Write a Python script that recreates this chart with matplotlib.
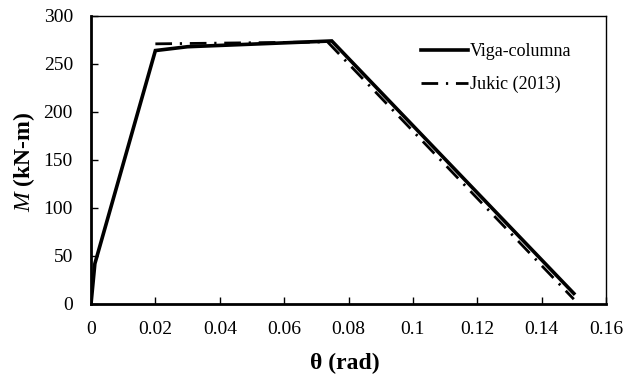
import matplotlib
matplotlib.use("Agg")
import matplotlib.pyplot as plt

# data
viga_theta = [0.0, 0.0012, 0.020, 0.030, 0.0748, 0.150]
viga_m = [0.0, 42.0, 264.0, 268.0, 274.0, 11.0]

jukic_theta = [0.020, 0.0735, 0.150]
jukic_m = [271.0, 273.0, 5.0]

x_ticks = [0, 0.02, 0.04, 0.06, 0.08, 0.1, 0.12, 0.14, 0.16]
x_labels = ["0", "0.02", "0.04", "0.06", "0.08", "0.1", "0.12", "0.14", "0.16"]
y_ticks = [0, 50, 100, 150, 200, 250, 300]

plt.rcParams['font.family'] = ['Liberation Serif', 'DejaVu Serif']
plt.rcParams['mathtext.fontset'] = 'custom'
plt.rcParams['mathtext.it'] = 'Liberation Serif:italic'
plt.rcParams['mathtext.rm'] = 'Liberation Serif'

fig = plt.figure(figsize=(6.26, 3.8), dpi=100)
ax = fig.add_axes([91 / 626, 1 - 304 / 380, (606 - 91) / 626, (304 - 16) / 380])

ax.plot(viga_theta, viga_m, color='black', lw=2.6, label='Viga-columna',
        solid_joinstyle='miter')
ax.plot(jukic_theta, jukic_m, color='black', lw=2.0, linestyle=(0, (6, 2.8, 0.8, 2.8)),
        label='Jukic (2013)')

ax.set_xlim(0, 0.16)
ax.set_ylim(0, 300)
ax.set_xticks(x_ticks)
ax.set_xticklabels(x_labels)
ax.set_yticks(y_ticks)
ax.tick_params(direction='in', labelsize=14, length=5, width=1)
ax.tick_params(axis='x', pad=12)
ax.tick_params(axis='y', pad=13)

for side in ['bottom', 'left']:
    ax.spines[side].set_linewidth(2)
for side in ['top', 'right']:
    ax.spines[side].set_linewidth(1)

fig.text(345 / 626, 1 - 363 / 380, 'θ (rad)', fontsize=17, fontweight='bold',
         ha='center', va='center')
fig.text(24 / 626, 1 - 162 / 380, r'$\mathit{M}$ (kN-m)', rotation=90, fontsize=17,
         fontweight='bold', ha='center', va='center')

ax.legend(loc='upper left', frameon=False, fontsize=13, handlelength=2.6,
          handletextpad=0.1, bbox_to_anchor=(0.627, 0.93), labelspacing=0.85,
          borderaxespad=0)

fig.savefig('out.png', dpi=100)
